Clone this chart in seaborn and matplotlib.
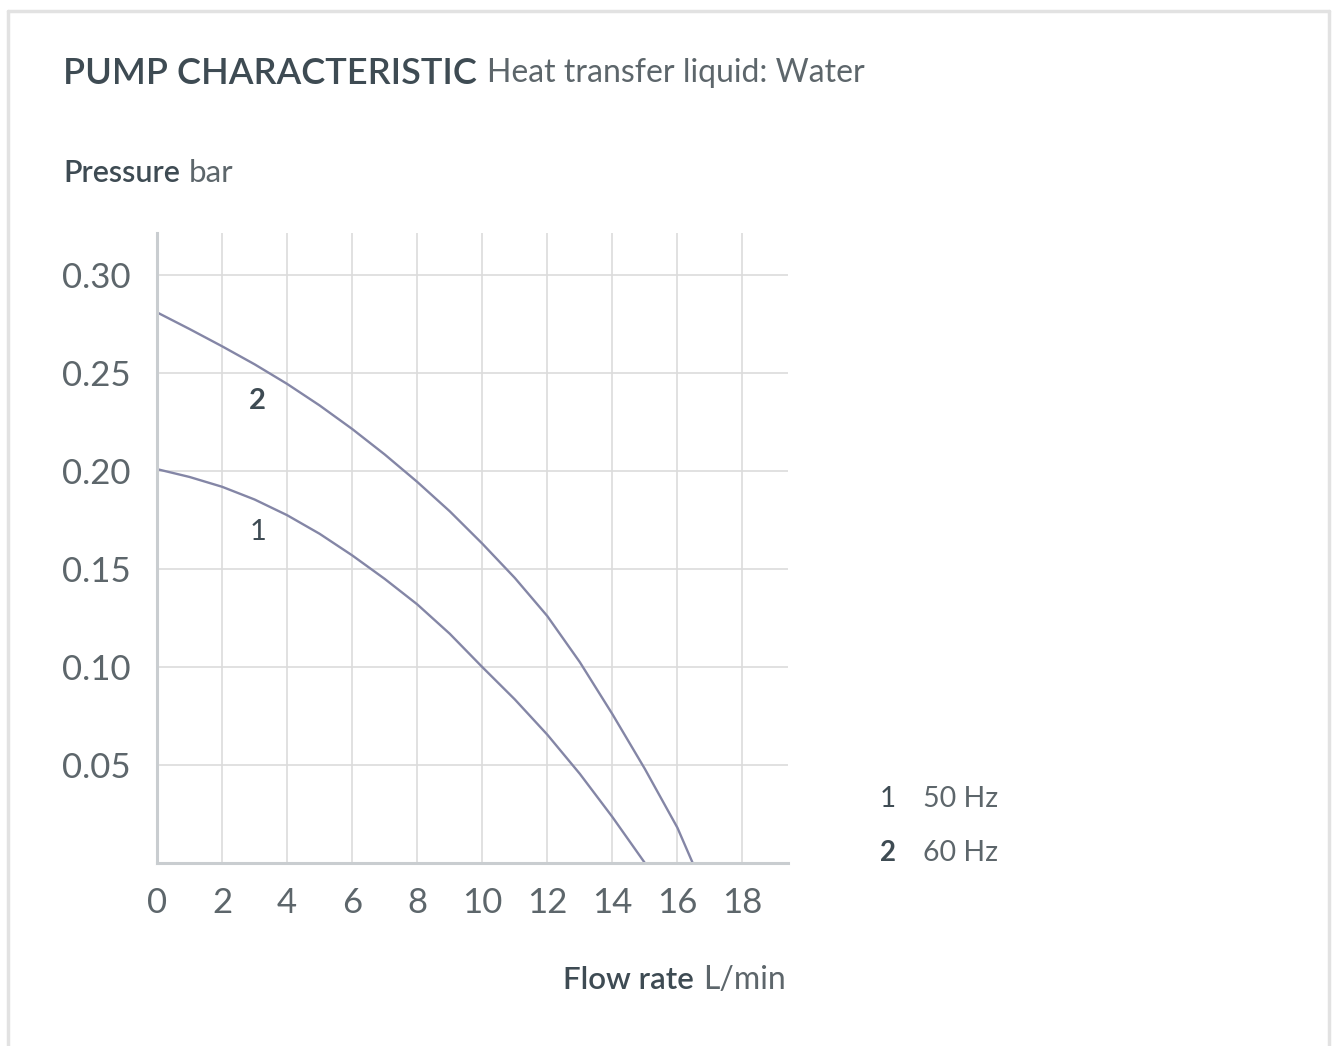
import numpy as np
import pandas as pd
import seaborn as sns
import matplotlib.pyplot as plt
from matplotlib.lines import Line2D

# values
flow_50 = [0, 1, 2, 3, 4, 5, 6, 7, 8, 9, 10, 11, 12, 13, 14, 15]
pressure_50 = [0.201, 0.197, 0.192, 0.1855, 0.1775, 0.168, 0.157, 0.145, 0.132,
               0.117, 0.100, 0.0835, 0.0655, 0.0455, 0.0235, 0.0]
flow_60 = [0, 1, 2, 3, 4, 5, 6, 7, 8, 9, 10, 11, 12, 13, 14, 15, 16, 16.47]
pressure_60 = [0.281, 0.2725, 0.2637, 0.2545, 0.2445, 0.2335, 0.2215, 0.2085, 0.1945,
               0.1795, 0.163, 0.1455, 0.126, 0.1025, 0.076, 0.048, 0.018, 0.0]
curve_ids = ['1', '2']
curve_names = ['50 Hz', '60 Hz']
x_ticks = [0, 2, 4, 6, 8, 10, 12, 14, 16, 18]
y_ticks = [0.05, 0.10, 0.15, 0.20, 0.25, 0.30]

df = pd.concat([
    pd.DataFrame({'flow': flow_50, 'pressure': pressure_50, 'curve': '1'}),
    pd.DataFrame({'flow': flow_60, 'pressure': pressure_60, 'curve': '2'}),
])

sns.set_theme(style='white')
plt.rcParams['font.family'] = ['Lato', 'DejaVu Sans']

dark = '#3e4b53'
grey = '#5d666b'
line_col = '#8486a6'

fig = plt.figure(figsize=(13.36, 10.46), dpi=100)
ax = fig.add_axes([157 / 1336, 1 - 863 / 1046, (788 - 157) / 1336, (863 - 233) / 1046])

sns.lineplot(data=df, x='flow', y='pressure', units='curve', estimator=None,
             color=line_col, linewidth=1.7, sort=False, ax=ax)

ax.set_xlim(0, 19.4)
ax.set_ylim(0, 0.3215)
ax.set_xticks(x_ticks)
ax.set_yticks(y_ticks)
ax.set_xticklabels([str(t) for t in x_ticks])
ax.set_yticklabels(['%.2f' % t for t in y_ticks])
ax.grid(True, color='#dcdcdc', linewidth=1.2)
ax.tick_params(axis='both', length=0, labelsize=25, labelcolor=grey)
ax.tick_params(axis='y', pad=19)
ax.tick_params(axis='x', pad=17)
ax.set_xlabel('')
ax.set_ylabel('')
for side in ['top', 'right']:
    ax.spines[side].set_visible(False)
for side in ['left', 'bottom']:
    ax.spines[side].set_color('#c9cdd0')
    ax.spines[side].set_linewidth(2.2)

# curve numbers
ax.text(3.1, 0.236, curve_ids[1], fontsize=21, color=dark, fontweight='bold',
        ha='center', va='center')
ax.text(3.1, 0.169, curve_ids[0], fontsize=21, color=dark, fontweight='normal',
        ha='center', va='center')

# legend block
for i, (cid, name) in enumerate(zip(curve_ids, curve_names)):
    yy = 1 - (799 + 54 * i) / 1046
    fig.text(888 / 1336, yy, cid, fontsize=20, color=dark, ha='center', va='center',
             fontweight='bold' if i == 1 else 'normal')
    fig.text(923 / 1336, yy, name, fontsize=20.5, color=grey, ha='left', va='center')

# headings made of a bold part followed by a light part
fig.canvas.draw()
renderer = fig.canvas.get_renderer()


def two_part(x, y, bold, light, size, size2, ha='left'):
    t1 = fig.text(x, y, bold, fontsize=size, color=dark, fontweight='semibold',
                  ha='left', va='center')
    bb = t1.get_window_extent(renderer)
    x2 = (bb.x1 + size * 0.4) / fig.bbox.width
    t2 = fig.text(x2, y, light, fontsize=size2, color=grey, fontweight='normal',
                  ha='left', va='center')
    if ha == 'right':
        bb2 = t2.get_window_extent(renderer)
        shift = x - bb2.x1 / fig.bbox.width
        t1.set_x(t1.get_position()[0] + shift)
        t2.set_x(t2.get_position()[0] + shift)


two_part(63 / 1336, 1 - 73 / 1046, 'PUMP CHARACTERISTIC', 'Heat transfer liquid: Water', 26, 23)
two_part(63 / 1336, 1 - 173 / 1046, 'Pressure', 'bar', 22, 22.5)
two_part(786 / 1336, 1 - 980 / 1046, 'Flow rate', 'L/min', 22.5, 23, ha='right')

# light frame around the card
frame = dict(color='#e2e2e2', linewidth=2.5, transform=fig.transFigure)
fig.add_artist(Line2D([8 / 1336, 8 / 1336], [0, 1 - 11 / 1046], **frame))
fig.add_artist(Line2D([8 / 1336, 1329 / 1336], [1 - 11 / 1046, 1 - 11 / 1046], **frame))
fig.add_artist(Line2D([1329 / 1336, 1329 / 1336], [0, 1 - 11 / 1046], **frame))

fig.savefig('out.png', dpi=100, facecolor='white')
